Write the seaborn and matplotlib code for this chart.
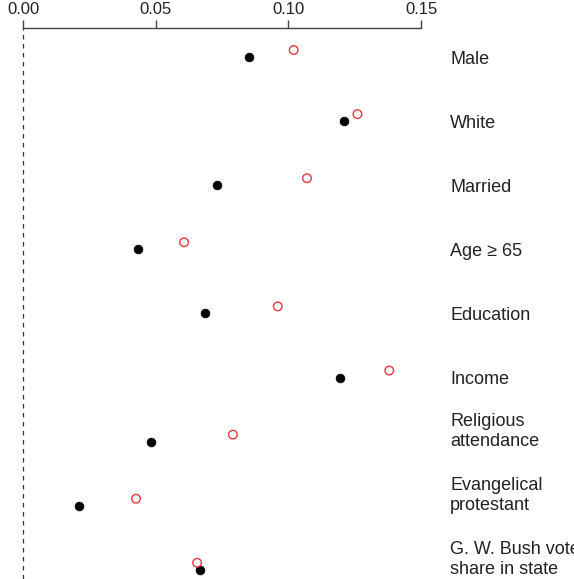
import numpy as np
import pandas as pd
import matplotlib
matplotlib.use("Agg")
import matplotlib.pyplot as plt
import seaborn as sns

# Predictor labels, top to bottom
categories = ["Male", "White", "Married", "Age \u2265 65", "Education", "Income",
              "Religious\nattendance", "Evangelical\nprotestant",
              "G. W. Bush vote\nshare in state"]
# Estimates for the two series
black_values = [0.0852, 0.121, 0.073, 0.0433, 0.0686, 0.1194, 0.0482, 0.0211, 0.0667]
red_values = [0.102, 0.126, 0.107, 0.0607, 0.096, 0.138, 0.0791, 0.0426, 0.0656]
tick_values = [0.00, 0.05, 0.10, 0.15]
tick_labels = ["0.00", "0.05", "0.10", "0.15"]

sns.set_style("white")
plt.rcParams["font.family"] = ["Liberation Sans", "DejaVu Sans"]

W, H = 574, 579
fig = plt.figure(figsize=(W / 100, H / 100), dpi=100)

x0_px, px_per_unit = 23.0, 2654.0
top_px = 28.0
row_px = 64.1
first_row_px = 57.0

ax = fig.add_axes([0, 0, 1, (H - top_px) / H])
ax.set_xlim(-x0_px / px_per_unit, (W - x0_px) / px_per_unit)
ytop = -(first_row_px - top_px) / row_px
ybot = ytop + (H - top_px) / row_px
ax.set_ylim(ybot, ytop)

rows = np.arange(len(categories))
red_shift = -7.0 / row_px
df = pd.DataFrame({
    "value": black_values + red_values,
    "row": np.concatenate([rows, rows + red_shift]),
    "series": ["black"] * len(rows) + ["red"] * len(rows),
})

ax.axvline(0, color="#333333", lw=0.9, ls=(0, (3.6, 3.6)), zorder=1)

sns.scatterplot(data=df[df.series == "black"], x="value", y="row", ax=ax,
                color="black", s=40, marker="o", edgecolor="black",
                linewidth=0.5, legend=False, zorder=3)
sns.scatterplot(data=df[df.series == "red"], x="value", y="row", ax=ax,
                facecolor="none", edgecolor="#e8383d", s=38, marker="o",
                linewidth=1.0, legend=False, zorder=3)

label_x = (450 - x0_px) / px_per_unit
for i, lab in enumerate(categories):
    n_lines = lab.count("\n") + 1
    shift = 2.0 / row_px if n_lines == 1 else -10.0 / row_px
    ax.text(label_x, i + shift, lab, ha="left", va="center", fontsize=13,
            color="#222222", linespacing=1.2)

for side in ["left", "right", "bottom"]:
    ax.spines[side].set_visible(False)
ax.spines["top"].set_visible(True)
ax.spines["top"].set_bounds(0, 0.15)
ax.spines["top"].set_color("#444444")
ax.spines["top"].set_linewidth(1.0)
ax.xaxis.set_ticks_position("top")
ax.xaxis.set_label_position("top")
ax.set_xticks(tick_values)
ax.set_xticklabels(tick_labels)
ax.tick_params(axis="x", direction="out", length=6, width=1.0, color="#444444",
               labelsize=12, labelcolor="#222222", pad=2)
ax.set_yticks([])
ax.set_xlabel("")
ax.set_ylabel("")

fig.savefig("out.png", dpi=100)
